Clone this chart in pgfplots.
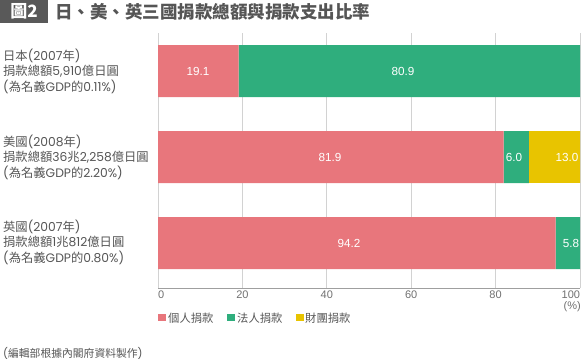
\documentclass[border=0pt]{standalone}
\usepackage{pgfplots}
\pgfplotsset{compat=1.18}
\usepackage{fontspec}
\setmainfont{Noto Sans CJK TC}
\newfontfamily\lat{Poppins}
\newfontfamily\hel{Liberation Sans}
\definecolor{cpink}{HTML}{E8767C}
\definecolor{cgreen}{HTML}{2FAE7D}
\definecolor{cyellow}{HTML}{E8C400}
\definecolor{ctext}{HTML}{555555}
\definecolor{ctick}{HTML}{707070}
\definecolor{cbox}{HTML}{595959}
\tikzset{bl/.style={text=white, inner sep=0pt, font=\hel\fontsize{11.7}{12}\selectfont}}
\begin{document}
\begin{tikzpicture}[x=1pt,y=1pt]
\path[use as bounding box] (0,0) rectangle (584,361);
\begin{axis}[
  at={(158pt,73pt)}, anchor=south west,
  scale only axis, width=422pt, height=255pt,
  xbar stacked, bar width=52pt,
  xmin=0, xmax=100, ymin=-0.523, ymax=2.442,
  axis x line*=bottom, axis y line=none,
  x axis line style={color=gray!75, line width=0.8pt},
  xtick={0,20,40,60,80,100},
  xticklabels={\makebox[0pt][l]{0},20,40,60,80,\makebox[0pt][r]{100}},
  ytick=\empty,
  major tick length=0pt,
  xmajorgrids, grid style={color=gray!35, line width=0.8pt},
  xticklabel style={font=\hel\fontsize{11}{11}\selectfont, text=ctick, inner sep=1pt, yshift=-2pt},
  /pgf/number format/assume math mode=true,
]
\addplot[fill=cpink, draw=none] coordinates {(19.1,2) (81.9,1) (94.2,0)};
\addplot[fill=cgreen, draw=none] coordinates {(80.9,2) (6.0,1) (5.8,0)};
\addplot[fill=cyellow, draw=none] coordinates {(0,2) (13.0,1) (0,0)};
\end{axis}
% bar value labels
\node[bl] at (198,290) {19.1};
\node[bl] at (403,290) {80.9};
\node[bl] at (330,203.5) {81.9};
\node[bl] at (514,203.5) {6.0};
\node[bl] at (567,203.5) {13.0};
\node[bl] at (349,118) {94.2};
\node[bl] at (571,118) {5.8};
% title
\fill[cbox] (0,338) rectangle (48,361);
\node[anchor=center, text=white, font=\fontsize{17}{17}\selectfont\bfseries, inner sep=0pt] at (24,349.5) {圖2};
\node[anchor=west, text=ctext, font=\fontsize{17.5}{17.5}\selectfont\bfseries, inner sep=0pt] at (55,349) {日、美、英三國捐款總額與捐款支出比率};
% left labels
\begin{scope}[every node/.style={anchor=west, align=left, text=ctext, inner sep=0pt, font=\fontsize{12.3}{15.5}\selectfont}]
\node at (3,290) {日本{\lat(2007}年{\lat)}\\捐款總額{\lat 5,910}億日圓\\{\lat(}為名義{\lat GDP}的{\lat 0.11\%)}};
\node at (3,204) {美國{\lat(2008}年{\lat)}\\捐款總額{\lat 36}兆{\lat 2,258}億日圓\\{\lat(}為名義{\lat GDP}的{\lat 2.20\%)}};
\node at (3,119) {英國{\lat(2007}年{\lat)}\\捐款總額{\lat 1}兆{\lat 812}億日圓\\{\lat(}為名義{\lat GDP}的{\lat 0.80\%)}};
\end{scope}
% (%)
\node[anchor=east, text=ctick, inner sep=0pt, font=\hel\fontsize{11}{11}\selectfont] at (581,54) {(\%)};
% legend
\begin{scope}[every node/.style={anchor=west, text=ctext, inner sep=0pt, font=\fontsize{11.3}{11.3}\selectfont}]
\fill[cpink] (158,39.5) rectangle (166,46.5);
\node at (168,43) {個人捐款};
\fill[cgreen] (227,39.5) rectangle (235,46.5);
\node at (237,43) {法人捐款};
\fill[cyellow] (296,39.5) rectangle (304,46.5);
\node at (305,43) {財團捐款};
\end{scope}
% footer
\node[anchor=west, text=ctext, inner sep=0pt, font=\fontsize{10.8}{10.8}\selectfont] at (3,8) {{\lat(}編輯部根據內閣府資料製作{\lat)}};
\end{tikzpicture}
\end{document}
